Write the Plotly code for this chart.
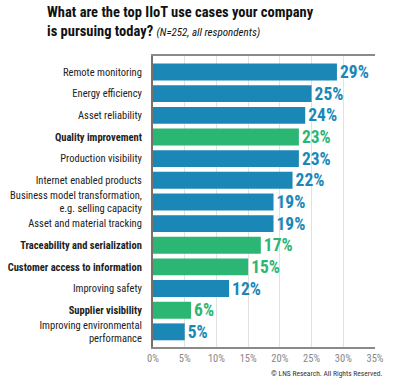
import plotly.graph_objects as go

categories = [
    "Remote monitoring",
    "Energy efficiency",
    "Asset reliability",
    "Quality improvement",
    "Production visibility",
    "Internet enabled products",
    "Business model transformation,<br>e.g. selling capacity",
    "Asset and material tracking",
    "Traceability and serialization",
    "Customer access to information",
    "Improving safety",
    "Supplier visibility",
    "Improving environmental<br>performance",
]
values = [29, 25, 24, 23, 23, 22, 19, 19, 17, 15, 12, 6, 5]
highlight = [False, False, False, True, False, False, False, False, True, True, False, True, False]
tick_vals = [0, 5, 10, 15, 20, 25, 30, 35]
tick_text = ["0%", "5%", "10%", "15%", "20%", "25%", "30%", "35%"]

BLUE = "#1b87b7"
GREEN = "#2cb673"
colors = [GREEN if h else BLUE for h in highlight]
ylabels = [f"<b>{c}</b>" if h else c for c, h in zip(categories, highlight)]

FONT = "Roboto Condensed, Liberation Sans Narrow, sans-serif"

fig = go.Figure(go.Bar(
    x=values,
    y=categories,
    orientation="h",
    marker=dict(color=colors, line=dict(width=0)),
    width=0.78,
    text=[f"<b>{v}%</b>" for v in values],
    textposition="outside",
    constraintext="none",
    textfont=dict(color=colors, size=17.5, family=FONT),
    cliponaxis=False,
))

fig.update_layout(
    width=400, height=380,
    margin=dict(l=153, r=25, t=56, b=33, autoexpand=False),
    paper_bgcolor="white", plot_bgcolor="white",
    showlegend=False,
    font=dict(family=FONT),
    bargap=0.22,
)
fig.update_xaxes(
    range=[0, 35], tickvals=tick_vals, ticktext=tick_text,
    showgrid=True, gridcolor="#e2e2e2", gridwidth=1,
    showline=True, linecolor="#8a8a8a", linewidth=2, mirror=True,
    tickfont=dict(size=10.5, color="#888888", family=FONT),
    ticks="", zeroline=False, fixedrange=True, automargin=False,
)
fig.update_yaxes(
    type="category", categoryorder="array", categoryarray=categories,
    range=[12.7, -0.74],
    tickvals=categories, ticktext=ylabels,
    tickfont=dict(size=10.5, color="#222222", family=FONT),
    showline=True, linecolor="#7a6f68", linewidth=2,
    ticks="", ticklen=0, ticklabelstandoff=7, showgrid=False, automargin=False,
)

fig.add_annotation(
    xref="paper", yref="paper", x=-0.486, y=1.0, yshift=54,
    xanchor="left", yanchor="top", align="left", showarrow=False,
    text="<b>What are the top IIoT use cases your company</b><br><b>is pursuing today?</b> <i><span style='font-size:11px'>(N=252, all respondents)</span></i>",
    font=dict(size=14.5, color="#111111", family=FONT),
)
fig.add_annotation(
    xref="paper", yref="paper", x=1.045, y=0, yshift=-20,
    xanchor="right", yanchor="top", showarrow=False,
    text="© LNS Research. All Rights Reserved.",
    font=dict(size=7.5, color="#333333", family=FONT),
)

fig.write_html("out.html", post_script="document.body.style.margin='0';",
               config={"displayModeBar": False})
